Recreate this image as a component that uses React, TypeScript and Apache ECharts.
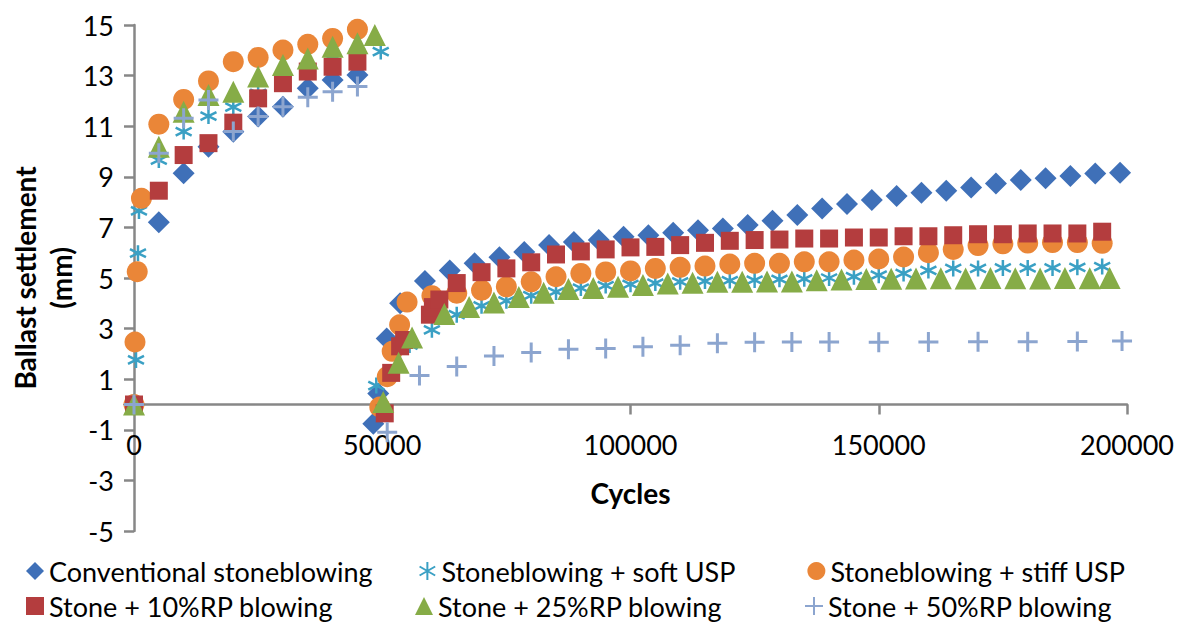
import React, { useEffect, useRef } from "react";
import * as echarts from "echarts";

const FONT = "Lato, 'Open Sans', sans-serif";

const seriesNames = [
  "Conventional stoneblowing",
  "Stoneblowing + soft USP",
  "Stoneblowing + stiff USP",
  "Stone + 10%RP blowing",
  "Stone + 25%RP blowing",
  "Stone + 50%RP blowing",
];

// Conventional stoneblowing
const convX = [0, 5000, 10000, 15000, 20000, 25000, 30000, 35000, 40000, 45000,
  48200, 49200, 50900, 53600, 58600, 63600, 68600, 73600, 78600, 83600, 88600, 93600, 98600,
  103600, 108600, 113600, 118600, 123600, 128600, 133600, 138600, 143600, 148600, 153600,
  158600, 163600, 168600, 173600, 178600, 183600, 188600, 193600, 198600];
const convY = [0, 7.2, 9.14, 10.19, 10.78, 11.38, 11.77, 12.5, 12.83, 13.02,
  -0.76, 0.43, 2.61, 4.0, 4.88, 5.3, 5.58, 5.82, 6.03, 6.3, 6.42, 6.5, 6.63,
  6.69, 6.79, 6.89, 6.96, 7.09, 7.26, 7.49, 7.75, 7.92, 8.08, 8.24,
  8.37, 8.45, 8.58, 8.74, 8.87, 8.94, 9.03, 9.13, 9.16];

// Stoneblowing + soft USP
const softX = [0, 400, 800, 1000, 5000, 10000, 15000, 20000, 25000, 30000, 35000, 40000, 45000, 49700,
  48800, 55500, 60000, 65000, 70000, 75000, 80000, 85000, 90000, 95000, 100000, 105000, 110000,
  115000, 120000, 125000, 130000, 135000, 140000, 145000, 150000, 155000, 160000, 165000, 170000,
  175000, 180000, 185000, 190000, 195000];
const softY = [0, 1.76, 5.98, 7.65, 9.66, 10.79, 11.4, 11.75, 12.3, 12.85, 13.3, 13.65, 13.9, 13.95,
  0.75, 2.35, 2.95, 3.55, 3.9, 4.1, 4.3, 4.45, 4.6, 4.7, 4.75, 4.8, 4.85,
  4.88, 4.9, 4.92, 4.95, 4.97, 5.0, 5.05, 5.11, 5.18, 5.3, 5.38, 5.38,
  5.4, 5.4, 5.4, 5.42, 5.45];

// Stoneblowing + stiff USP
const stiffX = [0, 200, 650, 1500, 5000, 10000, 15000, 20000, 25000, 30000, 35000, 40000, 45000,
  49500, 51000, 52000, 53500, 55000, 60000, 65000, 70000, 75000, 80000, 85000, 90000, 95000,
  100000, 105000, 110000, 115000, 120000, 125000, 130000, 135000, 140000, 145000, 150000,
  155000, 160000, 165000, 170000, 175000, 180000, 185000, 190000, 195000];
const stiffY = [0, 2.47, 5.25, 8.15, 11.08, 12.06, 12.79, 13.55, 13.72, 14.01, 14.24, 14.47, 14.83,
  -0.1, 1.1, 2.1, 3.15, 4.05, 4.3, 4.4, 4.52, 4.65, 4.85, 5.05, 5.18, 5.24,
  5.28, 5.38, 5.42, 5.47, 5.55, 5.58, 5.58, 5.64, 5.64, 5.71, 5.75,
  5.83, 6.0, 6.13, 6.28, 6.35, 6.38, 6.4, 6.4, 6.37];

// Stone + 10%RP blowing
const rp10X = [0, 5000, 10000, 15000, 20000, 25000, 30000, 35000, 40000, 45000,
  50500, 51800, 53600, 54400, 59600, 60200, 61500, 65000, 70000, 75000, 80000, 85000, 90000,
  95000, 100000, 105000, 110000, 115000, 120000, 125000, 130000, 135000, 140000, 145000,
  150000, 155000, 160000, 165000, 170000, 175000, 180000, 185000, 190000, 195000];
const rp10Y = [0, 8.45, 9.86, 10.33, 11.14, 12.1, 12.7, 13.16, 13.35, 13.55,
  -0.35, 1.25, 2.3, 2.55, 3.55, 3.85, 4.15, 4.8, 5.23, 5.38, 5.62, 5.93, 6.05,
  6.13, 6.21, 6.23, 6.3, 6.39, 6.47, 6.5, 6.52, 6.56, 6.56, 6.6,
  6.6, 6.65, 6.65, 6.69, 6.73, 6.73, 6.76, 6.76, 6.76, 6.83];

// Stone + 25%RP blowing
const rp25X = [0, 5000, 10000, 15000, 20000, 25000, 30000, 35000, 40000, 45000, 48500,
  50200, 53300, 56000, 62500, 67500, 72500, 77500, 82500, 87500, 92500, 97500, 102500,
  107500, 112500, 117500, 122500, 127500, 132500, 137500, 142500, 147500, 152500, 157500,
  162500, 167500, 172500, 177500, 182500, 187500, 192500, 196500];
const rp25Y = [0, 10.19, 11.57, 12.23, 12.36, 12.96, 13.42, 13.68, 14.14, 14.28, 14.6,
  0.1, 1.65, 2.65, 3.58, 3.85, 4.03, 4.25, 4.42, 4.57, 4.6, 4.65, 4.72,
  4.78, 4.81, 4.85, 4.85, 4.86, 4.86, 4.91, 4.94, 4.96, 4.97, 4.98,
  4.99, 4.98, 5.0, 4.99, 4.98, 5.0, 4.99, 5.0];

// Stone + 50%RP blowing
const rp50X = [0, 5000, 10000, 15000, 20000, 25000, 30000, 35000, 40000, 45000,
  51000, 57500, 65000, 72500, 80000, 87500, 95000, 102500, 110000, 117500, 125000,
  132500, 140000, 150000, 160000, 170000, 180000, 190000, 199000];
const rp50Y = [0, 9.93, 11.31, 12.04, 10.79, 11.38, 11.77, 12.14, 12.36, 12.57,
  -1.1, 1.15, 1.5, 1.92, 2.06, 2.18, 2.21, 2.28, 2.34, 2.42, 2.46,
  2.47, 2.47, 2.46, 2.47, 2.48, 2.48, 2.49, 2.51];

const xTicks = { min: 0, max: 200000, interval: 50000 };
const yTicks = { min: -5, max: 15, interval: 2 };

const ASTERISK = "path://M5,0L5,10M0.67,2.5L9.33,7.5M0.67,7.5L9.33,2.5";
const PLUS = "path://M0,5L10,5M5,0L5,10";

const pair = (xs: number[], ys: number[]) => xs.map((x, i) => [x, ys[i]]);

export default function App() {
  const ref = useRef<HTMLDivElement>(null);
  useEffect(() => {
    if (!ref.current) return;
    const chart = echarts.init(ref.current, undefined, { renderer: "svg" });
    const axisGrey = "#878787";
    const legendText = {
      fontFamily: FONT,
      fontSize: 27,
      color: "#000",
      width: 320,
      lineHeight: 32,
    };
    const mkLegend = (top: number, data: string[]) => ({
      left: 21,
      top,
      orient: "horizontal",
      itemWidth: 18,
      itemHeight: 18,
      itemGap: 46,
      selectedMode: false,
      data,
      textStyle: legendText,
    });
    chart.setOption({
      animation: false,
      backgroundColor: "#fff",
      textStyle: { fontFamily: FONT, fontSize: 27 },
      grid: {
        left: 134, right: 52, top: 25, bottom: 94,
        containLabel: false, outerBoundsMode: "none",
      },
      legend: [
        mkLegend(550, seriesNames.slice(0, 3)),
        mkLegend(585, seriesNames.slice(3, 6)),
      ],
      xAxis: {
        type: "value",
        min: xTicks.min,
        max: xTicks.max,
        interval: xTicks.interval,
        name: "Cycles",
        nameLocation: "middle",
        nameGap: -52,
        nameMoveOverlap: false,
        nameTextStyle: { fontFamily: FONT, fontSize: 28, fontWeight: "bold", color: "#000" },
        axisLine: { onZero: true, lineStyle: { color: axisGrey, width: 2.5 } },
        axisTick: { show: true, length: 10, lineStyle: { color: axisGrey, width: 2.5 } },
        axisLabel: {
          fontFamily: FONT, fontSize: 27, color: "#000", margin: -100,
          formatter: (v: number) => String(v),
        },
        splitLine: { show: false },
      },
      yAxis: {
        type: "value",
        min: yTicks.min,
        max: yTicks.max,
        interval: yTicks.interval,
        name: "Ballast settlement\n(mm)",
        nameLocation: "middle",
        nameGap: 55,
        nameMoveOverlap: false,
        nameTextStyle: { fontFamily: FONT, fontSize: 28, fontWeight: "bold", color: "#000", lineHeight: 36 },
        axisLine: { onZero: false, lineStyle: { color: axisGrey, width: 2.5 } },
        axisTick: { show: true, length: 10, lineStyle: { color: axisGrey, width: 2.5 } },
        axisLabel: { fontFamily: FONT, fontSize: 27, color: "#000", margin: 20 },
        splitLine: { show: false },
      },
      series: [
        {
          name: seriesNames[0], type: "scatter", symbol: "diamond", symbolSize: 22,
          itemStyle: { color: "#3F70B8", opacity: 1 }, data: pair(convX, convY),
        },
        {
          name: seriesNames[1], type: "scatter", symbol: ASTERISK, symbolSize: 16,
          itemStyle: { color: "rgba(0,0,0,0)", borderColor: "#3AA0C4", borderWidth: 2.5, opacity: 1 },
          data: pair(softX, softY),
        },
        {
          name: seriesNames[2], type: "scatter", symbol: "circle", symbolSize: 21,
          itemStyle: { color: "#EA8638", opacity: 1 }, data: pair(stiffX, stiffY),
        },
        {
          name: seriesNames[3], type: "scatter", symbol: "rect", symbolSize: 18,
          itemStyle: { color: "#B43D3E", opacity: 1 }, data: pair(rp10X, rp10Y),
        },
        {
          name: seriesNames[4], type: "scatter", symbol: "triangle", symbolSize: 22,
          itemStyle: { color: "#86AC47", opacity: 1 }, data: pair(rp25X, rp25Y),
        },
        {
          name: seriesNames[5], type: "scatter", symbol: PLUS, symbolSize: 20,
          itemStyle: { color: "rgba(0,0,0,0)", borderColor: "#8CA5CF", borderWidth: 3, opacity: 1 },
          data: pair(rp50X, rp50Y),
        },
      ],
    });
    return () => chart.dispose();
  }, []);
  return (
    <div
      ref={ref}
      style={{ position: "fixed", left: 0, top: 0, width: 1179, height: 625, background: "#fff" }}
    />
  );
}
